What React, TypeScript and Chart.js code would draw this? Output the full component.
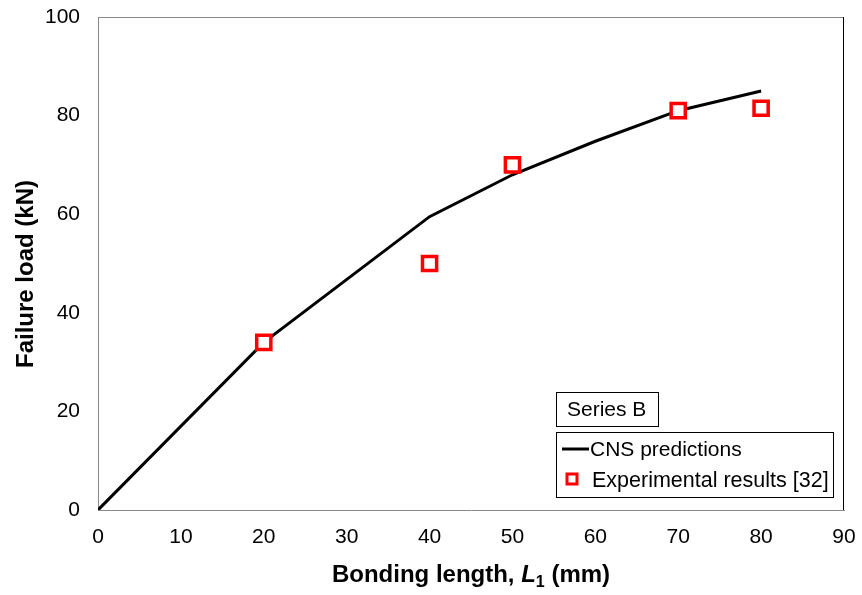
import React, { useEffect, useRef } from "react";
import { Chart, registerables } from "chart.js";
Chart.register(...registerables);

const lineX = [0, 20, 40, 50, 60, 70, 80];
const lineY = [0, 34, 59.5, 68, 74.8, 81, 85];
const expX = [20, 40, 50, 70, 80];
const expY = [34, 50, 70, 81, 81.5];
const xTicks = [0, 10, 20, 30, 40, 50, 60, 70, 80, 90];
const yTicks = [0, 20, 40, 60, 80, 100];
const seriesLabel = "Series B";
const lineLabel = "CNS predictions";
const expLabel = "Experimental results [32]";

const FONT = "'Liberation Sans', Arial, sans-serif";

const decor = {
  id: "decor",
  afterDraw(chart: any) {
    const ctx = chart.ctx;
    const a = chart.chartArea;
    ctx.save();
    ctx.lineWidth = 1;
    ctx.strokeStyle = "#888";
    ctx.beginPath();
    ctx.moveTo(a.left, a.top + 0.5);
    ctx.lineTo(a.right, a.top + 0.5);
    ctx.stroke();
    ctx.strokeStyle = "#000";
    ctx.beginPath();
    ctx.moveTo(a.right - 0.5, a.top);
    ctx.lineTo(a.right - 0.5, a.bottom);
    ctx.stroke();

    ctx.fillStyle = "#000";
    ctx.font = `bold 24px ${FONT}`;
    ctx.textAlign = "center";
    ctx.textBaseline = "middle";
    ctx.save();
    ctx.translate(26, 274);
    ctx.rotate(-Math.PI / 2);
    ctx.fillText("Failure load (kN)", 0, 0);
    ctx.restore();

    const parts: [string, string, number][] = [
      ["Bonding length, ", `bold 24px ${FONT}`, 0],
      ["L", `italic bold 24px ${FONT}`, 0],
      ["1", `bold 16px ${FONT}`, 5],
      [" (mm)", `bold 24px ${FONT}`, 0],
    ];
    let total = 0;
    for (const p of parts) {
      ctx.font = p[1];
      total += ctx.measureText(p[0]).width;
    }
    let x = (a.left + a.right) / 2 - total / 2;
    const by = 582;
    ctx.textAlign = "left";
    ctx.textBaseline = "alphabetic";
    for (const p of parts) {
      ctx.font = p[1];
      ctx.fillText(p[0], x, by + p[2]);
      x += ctx.measureText(p[0]).width;
    }

    ctx.strokeStyle = "#000";
    ctx.lineWidth = 1;
    ctx.strokeRect(556.5, 392.5, 102, 34);
    ctx.font = `21px ${FONT}`;
    ctx.textBaseline = "middle";
    ctx.fillText(seriesLabel, 567, 410);

    ctx.strokeRect(556.5, 432.5, 277, 65);
    ctx.lineWidth = 3;
    ctx.beginPath();
    ctx.moveTo(562, 449);
    ctx.lineTo(589, 449);
    ctx.stroke();
    ctx.fillText(lineLabel, 590, 450);
    ctx.strokeStyle = "#ff0000";
    ctx.lineWidth = 3;
    ctx.fillStyle = "#fff";
    ctx.fillRect(567, 474, 10, 10);
    ctx.strokeRect(567, 474, 10, 10);
    ctx.fillStyle = "#000";
    ctx.font = `21.5px ${FONT}`;
    ctx.fillText(expLabel, 592, 481);
    ctx.restore();
  },
};

export default function App() {
  const ref = useRef<HTMLCanvasElement>(null);
  useEffect(() => {
    document.body.style.margin = "0";
    const chart = new Chart(ref.current!, {
      type: "scatter",
      data: {
        datasets: [
          {
            label: expLabel,
            data: expX.map((x, i) => ({ x, y: expY[i] })),
            pointStyle: "rect",
            pointRadius: 10,
            borderColor: "#ff0000",
            backgroundColor: "#ffffff",
            borderWidth: 3.5,
            showLine: false,
            order: 0,
          },
          {
            label: lineLabel,
            data: lineX.map((x, i) => ({ x, y: lineY[i] })),
            showLine: true,
            borderColor: "#000",
            borderWidth: 3,
            pointRadius: 0,
            tension: 0,
            order: 1,
          },
        ],
      },
      options: {
        animation: false,
        responsive: false,
        layout: { padding: { top: 17, right: 18, left: 0, bottom: 0 } },
        plugins: { legend: { display: false }, tooltip: { enabled: false } },
        scales: {
          x: {
            type: "linear",
            min: 0,
            max: 90,
            afterBuildTicks: (s: any) => {
              s.ticks = xTicks.map((v) => ({ value: v }));
            },
            afterFit: (s: any) => {
              s.height = 85;
              s.paddingLeft = 0;
              s.paddingRight = 0;
            },
            grid: { display: false, drawTicks: false },
            border: { color: "#888", width: 1 },
            ticks: { font: { family: FONT, size: 21 }, color: "#000", padding: 15, maxRotation: 0 },
          },
          y: {
            type: "linear",
            min: 0,
            max: 100,
            afterBuildTicks: (s: any) => {
              s.ticks = yTicks.map((v) => ({ value: v }));
            },
            afterFit: (s: any) => {
              s.width = 98;
              s.paddingTop = 0;
              s.paddingBottom = 0;
            },
            grid: { display: false, drawTicks: false },
            border: { color: "#888", width: 1 },
            ticks: { font: { family: FONT, size: 21 }, color: "#000", padding: 18 },
          },
        },
      },
      plugins: [decor],
    });
    return () => chart.destroy();
  }, []);
  return (
    <div style={{ position: "absolute", left: 0, top: 0, width: 862, height: 595 }}>
      <canvas ref={ref} width={862} height={595} style={{ width: 862, height: 595 }} />
    </div>
  );
}
